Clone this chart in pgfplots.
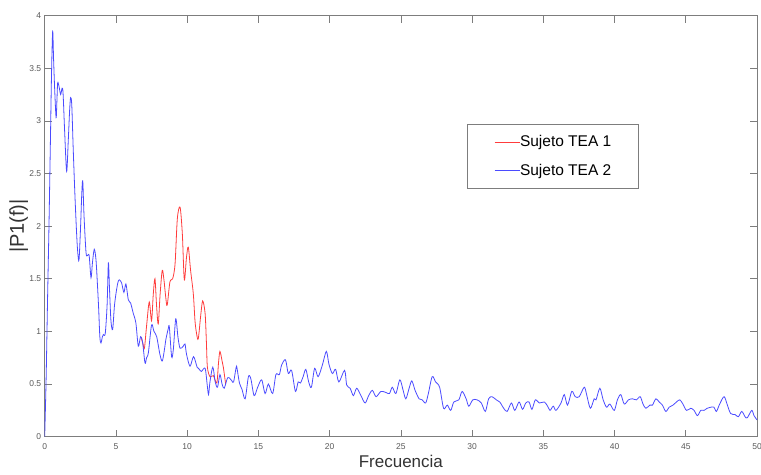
\documentclass[border=0pt]{standalone}
\usepackage{fontspec}
\setmainfont{Liberation Sans}
\usepackage{pgfplots}
\pgfplotsset{compat=1.18}
\usetikzlibrary{calc}

\definecolor{tea1}{RGB}{255,60,60}
\definecolor{tea2}{RGB}{75,75,255}
\definecolor{axgray}{RGB}{125,125,125}
\definecolor{lblgray}{RGB}{90,90,90}

\begin{document}
\begin{tikzpicture}
\begin{axis}[
    name=ax,
    scale only axis,
    width=712.3pt, height=421.2pt,
    xmin=0, xmax=50, ymin=0, ymax=4,
    xtick={0,5,...,50},
    ytick={0,0.5,1,1.5,2,2.5,3,3.5,4},
    tick align=inside,
    major tick length=7pt,
    axis line style={axgray, line width=0.7pt},
    every tick/.style={axgray, line width=0.6pt},
    tick label style={font=\fontsize{8.5}{10}\selectfont, text=lblgray},
    /pgf/number format/assume math mode=true,
    yticklabel style={/pgf/number format/fixed},
    xticklabel style={yshift=-3.5pt},
    xlabel={Frecuencia},
    ylabel={|P1(f)|},
    xlabel style={at={(axis description cs:0.5,-0.0427)}, anchor=north,
        inner sep=0pt, font=\fontsize{17}{20}\selectfont, text=black!80},
    ylabel style={at={(axis description cs:-0.023,0.5)}, anchor=south,
        inner sep=0pt, font=\fontsize{20}{22}\selectfont, text=black!80},
    legend style={at={(0.593,0.742)}, anchor=north west,
        draw=axgray, line width=0.6pt,
        inner xsep=27pt, inner ysep=11pt, row sep=16pt,
        font=\fontsize{15.5}{18}\selectfont,
        nodes={inner sep=0pt},
        /tikz/every even column/.append style={column sep=1pt}},
    legend cell align=left,
    legend image code/.code={\draw[#1, line width=0.6pt] (0pt,0pt) -- (25pt,0pt);},
]

% Sujeto TEA 1 (only visible where it rises above TEA 2)
\addplot[color=tea1, line width=0.8pt, smooth, tension=0.5] coordinates {
(6.75,0.95) (6.9,0.88) (7.0,0.84) (7.15,1.05) (7.34,1.28) (7.5,1.10)
(7.62,1.35) (7.74,1.50) (7.85,1.25) (7.97,1.07) (8.1,1.35) (8.25,1.58)
(8.37,1.49) (8.5,1.32) (8.6,1.25) (8.79,1.47) (8.98,1.50) (9.15,1.64)
(9.31,2.07) (9.5,2.18) (9.66,1.93) (9.8,1.49) (9.95,1.70) (10.08,1.80)
(10.24,1.58) (10.43,1.36) (10.55,1.10) (10.66,0.98) (10.78,0.93) (10.95,1.15)
(11.09,1.29) (11.26,1.17) (11.35,0.90) (11.42,0.66) (11.6,0.57) (11.84,0.58)
(12.08,0.51) (12.2,0.70) (12.3,0.81) (12.45,0.72) (12.54,0.66) (12.7,0.50)
};
\addlegendentry{Sujeto TEA 1}

% Sujeto TEA 2
\addplot[color=tea2, line width=0.8pt, smooth, tension=0.5] coordinates {
(0,0) (0.1,0.55) (0.2,1.3) (0.3,2.0) (0.4,2.8) (0.48,3.45) (0.56,3.85)
(0.62,3.6) (0.7,3.3) (0.8,3.03) (0.86,3.2) (0.91,3.36) (1.0,3.33) (1.12,3.25)
(1.22,3.31) (1.29,3.26) (1.4,2.9) (1.54,2.52) (1.65,2.8) (1.75,3.1) (1.82,3.22)
(1.9,3.15) (2.0,2.74) (2.12,2.3) (2.24,1.93) (2.32,1.75) (2.41,1.68) (2.52,2.0)
(2.6,2.3) (2.67,2.43) (2.76,2.1) (2.9,1.75) (3.0,1.72) (3.12,1.72) (3.25,1.51)
(3.35,1.65) (3.48,1.78) (3.6,1.68) (3.7,1.45) (3.79,1.21) (3.87,0.95) (3.95,0.89)
(4.05,0.95) (4.12,0.97) (4.25,0.98) (4.38,1.25) (4.47,1.65) (4.55,1.4) (4.65,1.1)
(4.77,1.02) (4.9,1.25) (5.05,1.4) (5.15,1.47) (5.24,1.49) (5.4,1.46) (5.56,1.37)
(5.7,1.45) (5.87,1.30) (6.03,1.27) (6.22,1.17) (6.4,1.08) (6.57,0.86) (6.73,0.95)
(6.87,0.90) (7.04,0.70) (7.15,0.75) (7.28,0.80) (7.5,1.06) (7.67,1.0) (7.86,0.95)
(8.09,0.78) (8.26,0.72) (8.44,0.86) (8.5,0.92) (8.68,1.03) (8.75,1.04) (8.91,0.76)
(9.03,0.83) (9.2,1.12) (9.35,0.95) (9.5,0.84) (9.73,0.86) (9.85,0.88) (9.96,0.78)
(10.2,0.67) (10.45,0.76) (10.7,0.66) (10.85,0.64) (11.0,0.62) (11.26,0.65) (11.4,0.50)
(11.5,0.40) (11.6,0.52) (11.8,0.66) (11.97,0.52) (12.13,0.47) (12.3,0.59) (12.45,0.50)
(12.6,0.46) (12.84,0.56) (13.02,0.55) (13.14,0.53) (13.26,0.52) (13.44,0.66) (13.5,0.65)
(13.67,0.51) (13.85,0.45) (14.07,0.36) (14.3,0.57) (14.47,0.55) (14.7,0.39) (14.95,0.47)
(15.23,0.54) (15.47,0.41) (15.7,0.50) (16.0,0.41) (16.23,0.59) (16.47,0.59) (16.63,0.68)
(16.9,0.73) (17.1,0.60) (17.33,0.63) (17.6,0.43) (17.79,0.52) (17.95,0.51) (18.14,0.57)
(18.33,0.64) (18.53,0.52) (18.72,0.47) (18.95,0.65) (19.19,0.57) (19.49,0.68) (19.77,0.81)
(19.95,0.69) (20.19,0.60) (20.42,0.64) (20.65,0.52) (21.05,0.63) (21.2,0.49) (21.44,0.46)
(21.67,0.39) (21.9,0.46) (22.2,0.39) (22.49,0.32) (22.74,0.39) (23.0,0.44) (23.26,0.38)
(23.6,0.43) (23.95,0.42) (24.2,0.41) (24.4,0.47) (24.65,0.41) (24.93,0.54) (25.16,0.44)
(25.35,0.36) (25.58,0.46) (25.77,0.53) (26.0,0.44) (26.28,0.36) (26.5,0.35) (26.74,0.32)
(26.93,0.41) (27.2,0.57) (27.44,0.52) (27.72,0.47) (28.0,0.27) (28.26,0.30) (28.5,0.25)
(28.72,0.33) (29.07,0.35) (29.3,0.43) (29.58,0.36) (29.77,0.29) (30.05,0.35) (30.35,0.35)
(30.65,0.32) (30.93,0.24) (31.16,0.36) (31.4,0.38) (31.7,0.35) (31.94,0.33) (32.22,0.27)
(32.46,0.24) (32.76,0.32) (33.0,0.25) (33.3,0.33) (33.54,0.26) (33.77,0.32) (34.0,0.33)
(34.2,0.26) (34.44,0.35) (34.72,0.32) (35.07,0.33) (35.3,0.29) (35.47,0.25) (35.7,0.29)
(35.89,0.25) (36.24,0.32) (36.47,0.40) (36.7,0.30) (37.0,0.43) (37.24,0.38) (37.52,0.38)
(37.87,0.47) (38.04,0.40) (38.3,0.27) (38.57,0.36) (38.7,0.35) (38.97,0.46) (39.2,0.35)
(39.44,0.28) (39.67,0.31) (39.98,0.25) (40.2,0.35) (40.44,0.40) (40.68,0.31) (40.98,0.35)
(41.26,0.36) (41.54,0.35) (41.8,0.38) (42.0,0.31) (42.2,0.27) (42.48,0.30) (42.66,0.30)
(42.9,0.36) (43.13,0.33) (43.36,0.30) (43.6,0.24) (43.83,0.28) (44.1,0.30) (44.35,0.33)
(44.58,0.35) (44.8,0.31) (45.05,0.25) (45.35,0.27) (45.58,0.25) (45.82,0.20) (46.05,0.25)
(46.28,0.25) (46.5,0.27) (46.75,0.28) (46.98,0.28) (47.15,0.24) (47.38,0.31) (47.69,0.38)
(47.92,0.30) (48.15,0.22) (48.46,0.21) (48.69,0.19) (48.93,0.24) (49.16,0.19) (49.32,0.18)
(49.63,0.25) (49.79,0.20) (50.0,0.16)
};
\addlegendentry{Sujeto TEA 2}

\end{axis}
\pgfresetboundingbox
\path[use as bounding box] ($(ax.south west)+(-44.7pt,-37.3pt)$) rectangle ($(ax.north east)+(4pt,15.5pt)$);
\end{tikzpicture}
\end{document}
